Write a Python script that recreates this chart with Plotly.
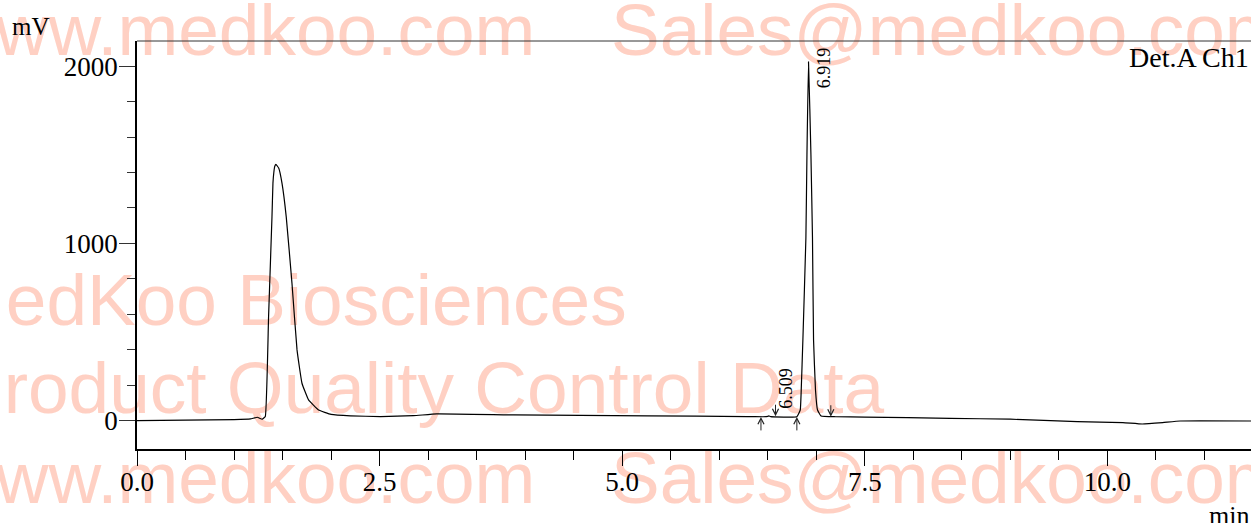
import plotly.graph_objects as go

# ---------------- data ----------------
time_min = [0.00, 0.50, 1.00, 1.17, 1.24, 1.29, 1.322, 1.356, 1.391, 1.401, 1.41, 1.42,
            1.432, 1.46, 1.494, 1.538, 1.597, 1.649, 1.70, 1.768, 1.871, 2.00, 2.20,
            2.51, 2.85, 3.09, 3.88, 5.26, 6.29, 6.45, 6.50, 6.51, 6.53, 6.80, 6.835,
            6.845, 6.862, 6.893, 6.904, 6.920, 6.945, 6.961, 6.972, 6.992, 7.013, 7.05,
            7.20, 7.50, 8.38, 9.00, 9.69, 10.16, 10.36, 10.57, 10.75, 11.48]
signal_mv = [0, 3, 6, 10, 19, 8, 23, 587, 1150, 1340, 1400, 1435,
             1446, 1425, 1340, 1150, 775, 399, 211, 117, 60, 35, 27,
             23, 28, 38, 32, 27, 23, 22, 24, 27, 23, 22, 60,
             173, 455, 1030, 1500, 2025, 1500, 1030, 455, 173, 60, 26,
             22, 20, 13, 8, -5, -11, -19, -11, -2, -2]

x_tick_vals = [0.0, 2.5, 5.0, 7.5, 10.0]
y_tick_vals = [0, 1000, 2000]

peak_rt = [6.509, 6.919]
peak_height = [26, 2025]
peak_text = ["6.509", "6.919"]

peak_start = [6.43, 6.80]
peak_start_mv = [21, 21]
peak_end = [6.58, 7.15]
peak_end_mv = [25, 22]

# ---------------- layout geometry ----------------
W, H = 1251, 523
ML, MR, MT, MB = 137, 0, 41, 74
PW, PH = W - ML - MR, H - MT - MB


def px_x(px):
    return (px - ML) / PW


def px_y(py):
    return (H - MB - py) / PH


SERIF = "Liberation Serif, Times New Roman, serif"
SANS = "Liberation Sans, Arial, sans-serif"
WM_COLOR = "rgb(255,208,195)"

fig = go.Figure()
fig.add_trace(go.Scatter(
    x=time_min, y=signal_mv, mode="lines",
    line=dict(color="black", width=1.2, shape="spline", smoothing=0.3),
    hoverinfo="skip", showlegend=False,
))

shapes = []
# watermark (drawn below traces)
watermarks = [
    ("www.medkoo.com", -60, 22),
    ("Sales@medkoo.com", 608, 22),
    ("MedKoo Biosciences", -58, 292),
    ("Product Quality Control Data", -48, 380),
    ("www.medkoo.com", -60, 470),
    ("Sales@medkoo.com", 608, 470),
]
for txt, lx, cy in watermarks:
    shapes.append(dict(
        type="rect", xref="paper", yref="paper",
        x0=px_x(lx), x1=px_x(lx + 2), y0=px_y(cy + 1), y1=px_y(cy - 1),
        line=dict(width=0), fillcolor="rgba(0,0,0,0)", layer="below",
        label=dict(text=txt, textposition="middle left", padding=0,
                   font=dict(family=SANS, size=73, color=WM_COLOR)),
    ))
# thin top border
shapes.append(dict(type="line", xref="paper", yref="paper", x0=0, x1=1, y0=1, y1=1,
                   line=dict(color="#333333", width=1), layer="above"))

annotations = []
label_shift = [(17, 28), (15, -6)]
for rt, h, t, (dx, dy) in zip(peak_rt, peak_height, peak_text, label_shift):
    annotations.append(dict(
        x=rt, y=h, xref="x", yref="y", text=t, showarrow=False,
        textangle=-90, xanchor="center", yanchor="middle", xshift=dx, yshift=dy,
        font=dict(family=SERIF, size=18, color="black"),
    ))
for xs, ys in zip(peak_start, peak_start_mv):
    annotations.append(dict(
        x=xs, y=ys, xref="x", yref="y", text="", showarrow=True,
        ax=0, ay=15, arrowhead=5, arrowsize=1.2, arrowwidth=1, arrowcolor="#222222",
    ))
for xe, ye in zip(peak_end, peak_end_mv):
    annotations.append(dict(
        x=xe, y=ye, xref="x", yref="y", text="", showarrow=True,
        ax=0, ay=-13, arrowhead=5, arrowsize=1.2, arrowwidth=1, arrowcolor="#222222",
    ))
annotations += [
    dict(x=px_x(10), y=px_y(11), xref="paper", yref="paper", text="mV",
         showarrow=False, xanchor="left", yanchor="top",
         font=dict(family=SERIF, size=25, color="black")),
    dict(x=1, y=px_y(40), xref="paper", yref="paper", text="Det.A Ch1",
         showarrow=False, xanchor="right", yanchor="top",
         font=dict(family=SERIF, size=28, color="black")),
    dict(x=1, y=px_y(499), xref="paper", yref="paper", text="min",
         showarrow=False, xanchor="right", yanchor="top",
         font=dict(family=SERIF, size=26, color="black")),
]

fig.update_layout(
    width=W, height=H,
    margin=dict(l=ML, r=MR, t=MT, b=MB, pad=0),
    paper_bgcolor="white", plot_bgcolor="rgba(0,0,0,0)",
    shapes=shapes, annotations=annotations,
    showlegend=False,
)
fig.update_xaxes(
    range=[0, 11.48], tickvals=x_tick_vals, ticktext=[f"{v:.1f}" for v in x_tick_vals],
    ticks="outside", ticklen=15, tickwidth=1.2, tickcolor="black",
    showline=True, linecolor="black", linewidth=2, showgrid=False, zeroline=False,
    tickfont=dict(family=SERIF, size=27, color="black"), ticklabelstandoff=-7,
    minor=dict(dtick=0.5, tick0=0, ticks="outside", ticklen=9, tickwidth=1.2,
               tickcolor="black", showgrid=False),
)
fig.update_yaxes(
    range=[-160, 2142], tickvals=y_tick_vals, ticktext=[str(v) for v in y_tick_vals],
    ticks="outside", ticklen=16, tickwidth=1, tickcolor="#333333",
    showline=True, linecolor="black", linewidth=1.5, showgrid=False, zeroline=False,
    tickfont=dict(family=SERIF, size=27, color="black"), ticklabelstandoff=-4,
    minor=dict(dtick=200, tick0=0, ticks="outside", ticklen=8, tickwidth=1,
               tickcolor="#333333", showgrid=False),
)

fig.write_html(
    "out.html",
    config={"displayModeBar": False},
    post_script="document.body.style.margin='0';document.body.style.padding='0';",
)
